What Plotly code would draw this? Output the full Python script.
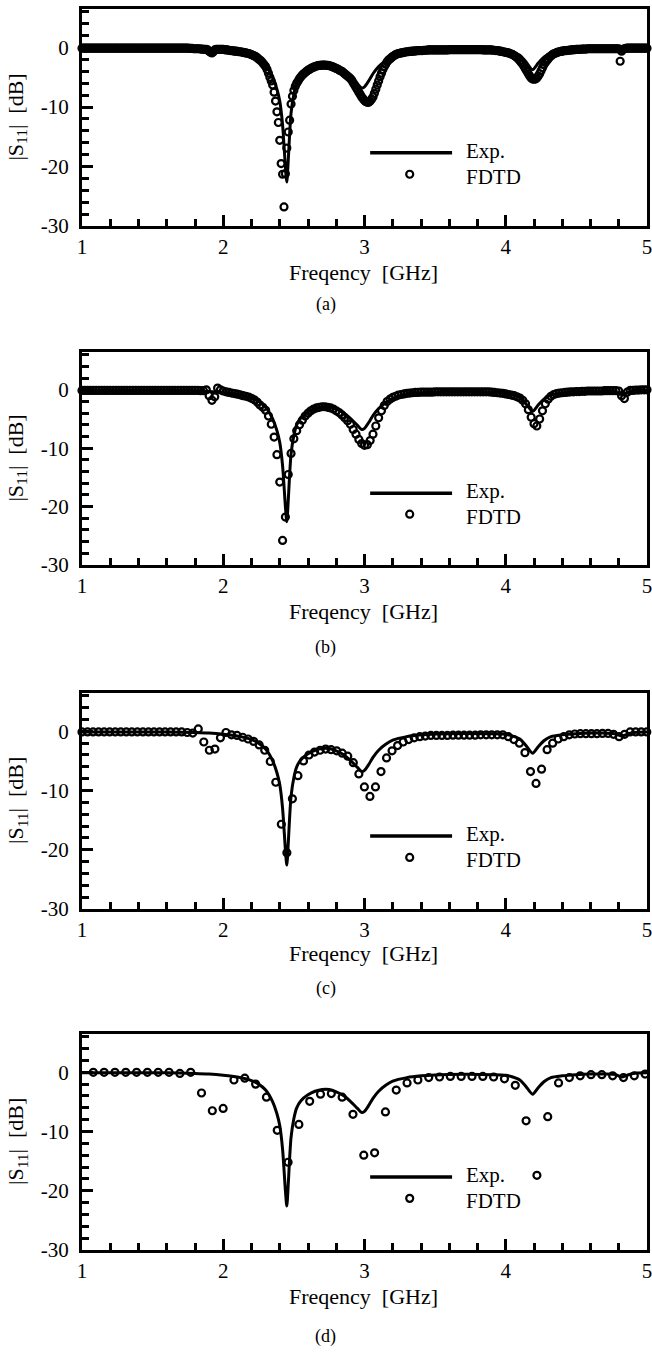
import numpy as np
import plotly.graph_objects as go

# ---------------- data ----------------
exp_f = [1.00, 1.20, 1.40, 1.60, 1.80, 1.90, 2.00, 2.10, 2.20, 2.25,
         2.30, 2.35, 2.38, 2.40, 2.42, 2.44, 2.45, 2.46, 2.47, 2.48,
         2.50, 2.52, 2.55, 2.60, 2.65, 2.70, 2.75, 2.80, 2.85, 2.90,
         2.95, 2.98, 3.00, 3.03, 3.06, 3.10, 3.15, 3.20, 3.30, 3.40,
         3.50, 3.70, 3.90, 4.00, 4.05, 4.10, 4.14, 4.19, 4.23, 4.27,
         4.32, 4.40, 4.50, 4.60, 4.70, 4.78, 4.82, 4.86, 4.90, 5.00]
exp_db = [-0.1, -0.1, -0.1, -0.1, -0.2, -0.3, -0.5, -0.8, -1.4, -2.0,
          -3.0, -5.0, -7.0, -9.0, -13.0, -20.0, -22.6, -19.0, -14.5, -11.0,
          -7.8, -6.0, -4.8, -3.8, -3.2, -2.9, -2.9, -3.3, -3.9, -4.9,
          -6.1, -6.8, -6.6, -5.6, -4.4, -3.2, -2.2, -1.5, -0.9, -0.6,
          -0.45, -0.35, -0.4, -0.5, -0.8, -1.3, -2.3, -3.7, -2.6, -1.6,
          -0.9, -0.6, -0.4, -0.3, -0.3, -0.4, -0.8, -0.5, -0.2, -0.1]

# FDTD (a): 0.01 GHz step from 1.00 to 5.00
fdtd_a = [
    -0.1, -0.1, -0.1, -0.1, -0.1, -0.1, -0.1, -0.1, -0.1, -0.1,
    -0.1, -0.1, -0.1, -0.1, -0.1, -0.1, -0.1, -0.1, -0.1, -0.1,
    -0.1, -0.1, -0.1, -0.1, -0.1, -0.1, -0.1, -0.1, -0.1, -0.1,
    -0.1, -0.1, -0.1, -0.1, -0.1, -0.1, -0.1, -0.1, -0.1, -0.1,
    -0.1, -0.1, -0.1, -0.1, -0.1, -0.1, -0.1, -0.1, -0.1, -0.1,
    -0.1, -0.1, -0.1, -0.1, -0.1, -0.1, -0.1, -0.1, -0.1, -0.1,
    -0.1, -0.1, -0.1, -0.1, -0.1, -0.1, -0.1, -0.1, -0.1, -0.1,
    -0.1, -0.1, -0.1, -0.1, -0.1, -0.1, -0.15, -0.15, -0.15, -0.2,
    -0.2, -0.2, -0.2, -0.2, -0.25, -0.25, -0.3, -0.3, -0.3, -0.4,
    -0.6, -0.8, -0.9, -0.7, -0.4, -0.3, -0.3, -0.3, -0.3, -0.3,
    -0.3, -0.35, -0.4, -0.4, -0.45, -0.5, -0.5, -0.55, -0.6, -0.6,
    -0.65, -0.7, -0.7, -0.75, -0.8, -0.85, -0.9, -0.95, -1.0, -1.1,
    -1.2, -1.3, -1.4, -1.5, -1.7, -1.9, -2.1, -2.3, -2.6, -2.9,
    -3.2, -3.7, -4.3, -5.0, -5.6, -6.3, -7.5, -9.0, -10.8, -12.6,
    -15.6, -19.5, -21.3, -26.8, -21.2, -16.9, -14.2, -12.2, -9.5, -8.2,
    -7.2, -6.5, -6.0, -5.6, -5.2, -4.9, -4.6, -4.4, -4.2, -4.0,
    -3.8, -3.7, -3.5, -3.4, -3.3, -3.2, -3.1, -3.05, -3.0, -3.0,
    -2.95, -2.95, -2.95, -3.0, -3.0, -3.05, -3.1, -3.2, -3.3, -3.4,
    -3.5, -3.6, -3.75, -3.9, -4.0, -4.2, -4.4, -4.6, -4.8, -5.0,
    -5.2, -5.5, -5.9, -6.3, -6.7, -7.1, -7.5, -7.9, -8.3, -8.6,
    -8.9, -9.1, -9.2, -9.2, -9.0, -8.7, -8.3, -7.7, -7.0, -6.3,
    -5.6, -4.9, -4.3, -3.7, -3.2, -2.8, -2.4, -2.1, -1.9, -1.7,
    -1.5, -1.35, -1.2, -1.1, -1.0, -0.95, -0.9, -0.85, -0.8, -0.75,
    -0.7, -0.7, -0.65, -0.65, -0.6, -0.6, -0.55, -0.55, -0.5, -0.5,
    -0.5, -0.5, -0.45, -0.45, -0.45, -0.4, -0.4, -0.4, -0.4, -0.4,
    -0.4, -0.4, -0.4, -0.4, -0.4, -0.4, -0.4, -0.4, -0.4, -0.4,
    -0.35, -0.35, -0.35, -0.35, -0.35, -0.35, -0.35, -0.35, -0.35, -0.35,
    -0.35, -0.35, -0.35, -0.35, -0.35, -0.35, -0.35, -0.35, -0.35, -0.35,
    -0.35, -0.35, -0.35, -0.35, -0.4, -0.4, -0.4, -0.4, -0.4, -0.4,
    -0.4, -0.45, -0.45, -0.5, -0.5, -0.55, -0.6, -0.65, -0.7, -0.75,
    -0.8, -0.85, -0.9, -1.0, -1.1, -1.2, -1.35, -1.5, -1.7, -1.9,
    -2.2, -2.5, -2.8, -3.2, -3.6, -4.0, -4.4, -4.8, -5.1, -5.3,
    -5.3, -5.3, -5.1, -4.8, -4.4, -3.9, -3.4, -2.9, -2.5, -2.2,
    -1.9, -1.6, -1.4, -1.2, -1.05, -0.95, -0.85, -0.75, -0.7, -0.65,
    -0.6, -0.55, -0.5, -0.5, -0.45, -0.45, -0.4, -0.4, -0.35, -0.35,
    -0.3, -0.3, -0.3, -0.3, -0.25, -0.25, -0.25, -0.25, -0.2, -0.2,
    -0.2, -0.2, -0.2, -0.2, -0.2, -0.2, -0.2, -0.2, -0.2, -0.2,
    -0.2, -0.2, -0.2, -0.2, -0.2, -0.2, -0.2, -0.2, -0.2, -0.2,
    -0.2, -2.3, -0.6, -0.3, -0.2, -0.15, -0.1, -0.1, -0.1, -0.1,
    -0.1, -0.1, -0.1, -0.1, -0.1, -0.1, -0.1, -0.1, -0.1, -0.1,
    -0.1]

# FDTD (b): 0.02 GHz step from 1.00 to 5.00
fdtd_b = [
    -0.1, -0.1, -0.1, -0.1, -0.1,
    -0.1, -0.1, -0.1, -0.1, -0.1,
    -0.1, -0.1, -0.1, -0.1, -0.1,
    -0.1, -0.1, -0.1, -0.1, -0.1,
    -0.1, -0.1, -0.1, -0.1, -0.1,
    -0.1, -0.1, -0.1, -0.1, -0.1,
    -0.1, -0.1, -0.1, -0.1, -0.1,
    -0.1, -0.1, -0.1, -0.1, -0.1,
    -0.1, -0.1, -0.15, -0.15, 0.0,
    -1.0, -1.8, -1.2, 0.3, 0.0,
    -0.2, -0.35, -0.45, -0.55, -0.65,
    -0.75, -0.85, -1.0, -1.1, -1.25,
    -1.45, -1.7, -2.1, -2.6, -3.0,
    -3.5, -4.5, -5.9, -8.1, -11.1,
    -15.8, -25.8, -21.8, -14.5, -10.9,
    -8.4, -7.0, -6.0, -5.2, -4.5,
    -4.0, -3.6, -3.3, -3.1, -3.0,
    -2.9, -2.9, -3.0, -3.1, -3.3,
    -3.6, -3.9, -4.3, -4.8, -5.3,
    -5.9, -6.8, -7.6, -8.5, -9.2,
    -9.5, -9.4, -8.7, -7.6, -6.2,
    -4.8, -3.6, -2.7, -2.0, -1.6,
    -1.3, -1.1, -0.9, -0.8, -0.7,
    -0.6, -0.55, -0.5, -0.45, -0.45,
    -0.4, -0.4, -0.4, -0.4, -0.4,
    -0.35, -0.35, -0.35, -0.35, -0.35,
    -0.35, -0.35, -0.35, -0.35, -0.35,
    -0.35, -0.35, -0.35, -0.35, -0.35,
    -0.35, -0.35, -0.35, -0.35, -0.35,
    -0.4, -0.45, -0.5, -0.55, -0.6,
    -0.7, -0.8, -0.9, -1.0, -1.2,
    -1.4, -1.8, -2.4, -3.4, -4.7,
    -5.8, -6.2, -5.0, -3.6, -2.4,
    -1.6, -1.1, -0.8, -0.65, -0.55,
    -0.5, -0.45, -0.4, -0.35, -0.35,
    -0.3, -0.3, -0.25, -0.25, -0.2,
    -0.2, -0.2, -0.2, -0.2, -0.2,
    -0.15, -0.15, -0.15, -0.15, -0.15,
    -0.2, -1.0, -1.5, -0.4, -0.1,
    -0.1, -0.05, -0.05, 0.0, 0.0,
    0.0]

# FDTD (c): ~0.0392 GHz step from 1.00
fdtd_c = [
    -0.1, -0.1, -0.1, -0.1, -0.1, -0.1, -0.1, -0.1, -0.1, -0.1,
    -0.1, -0.1, -0.1, -0.1, -0.1, -0.1, -0.1, -0.1, -0.1, -0.2,
    -0.3, 0.4, -1.8, -3.2, -3.0, -1.1, -0.2, -0.6, -0.7, -1.0,
    -1.3, -1.7, -2.3, -3.2, -5.1, -8.6, -15.7, -20.5, -11.4, -7.5,
    -5.0, -4.0, -3.5, -3.2, -3.0, -3.1, -3.3, -3.7, -4.2, -5.3,
    -7.2, -9.4, -11.0, -9.4, -6.8, -4.5, -3.3, -2.4, -1.8, -1.4,
    -1.1, -0.9, -0.8, -0.7, -0.7, -0.7, -0.7, -0.65, -0.65, -0.65,
    -0.65, -0.65, -0.6, -0.6, -0.6, -0.6, -0.6, -0.9, -1.4, -2.0,
    -3.6, -6.8, -8.8, -6.4, -3.1, -2.0, -1.3, -0.9, -0.6, -0.45,
    -0.4, -0.4, -0.4, -0.4, -0.35, -0.35, -0.5, -0.9, -0.5, -0.1,
    -0.1, -0.1, -0.1]

# FDTD (d): ~0.0766 GHz step from 1.08
fdtd_d = [
    0.0, 0.0, 0.0, 0.0, 0.0, 0.0, 0.0, 0.0, -0.2, 0.0,
    -3.5, -6.5, -6.1, -1.3, -1.0, -2.0, -4.2, -9.8, -15.2, -8.8,
    -4.9, -3.7, -3.6, -4.2, -7.1, -14.0, -13.6, -6.7, -3.0, -1.8,
    -1.3, -0.9, -0.8, -0.7, -0.7, -0.7, -0.7, -0.8, -1.1, -2.2,
    -8.2, -17.4, -7.5, -1.8, -0.9, -0.6, -0.4, -0.4, -0.6, -0.9,
    -0.6, -0.3]

# frequency sampling grids
f_a = np.round(1.00 + 0.01 * np.arange(len(fdtd_a)), 4)
f_b = np.round(1.00 + 0.02 * np.arange(len(fdtd_b)), 4)
f_c = np.round(1.00 + 0.0392 * np.arange(len(fdtd_c)), 4)
f_d = np.round(1.08 + 0.0766 * np.arange(len(fdtd_d)), 4)

panels = [("(a)", f_a, fdtd_a), ("(b)", f_b, fdtd_b),
          ("(c)", f_c, fdtd_c), ("(d)", f_d, fdtd_d)]

x_ticks = [1, 2, 3, 4, 5]
y_ticks = [-30, -20, -10, 0]
y_ticklabels = ["-30", "-20", "-10", "0"]

# ---------------- layout geometry (pixels) ----------------
W, H = 652, 1361
L, R = 82, 4
PW = W - L - R
tops = [9, 355, 699, 1043]
bottoms = [228, 570, 917, 1261]
xtitle_y = [275, 617, 962, 1308]
caption_y = [307, 653, 997, 1348]

def py(y):
    return 1 - y / H

def px(x):
    return (x - L) / PW

FONT = "Liberation Serif"

fig = go.Figure()
layout = dict(width=W, height=H, margin=dict(l=L, r=R, t=0, b=0),
              plot_bgcolor="white", paper_bgcolor="white", showlegend=False,
              font=dict(family=FONT, color="black"))
annotations = []
shapes = []

for i, (cap, f, vals) in enumerate(panels):
    n = "" if i == 0 else str(i + 1)
    xa, ya = "x" + n, "y" + n
    fig.add_trace(go.Scatter(x=exp_f, y=exp_db, mode="lines",
                             line=dict(color="black", width=3, shape="spline", smoothing=0.7),
                             xaxis=xa, yaxis=ya, hoverinfo="skip"))
    fig.add_trace(go.Scatter(x=f, y=vals, mode="markers",
                             marker=dict(symbol="circle-open", size=7, color="black",
                                         line=dict(color="black", width=2.2)),
                             cliponaxis=False, xaxis=xa, yaxis=ya, hoverinfo="skip"))
    layout["xaxis" + n] = dict(
        domain=[0, 1], anchor=ya, range=[1, 5], showgrid=False, zeroline=False,
        showline=True, linewidth=3, linecolor="black", mirror=True,
        ticks="inside", ticklen=11, tickwidth=3, tickcolor="black",
        tickvals=x_ticks, ticktext=[str(v) for v in x_ticks],
        ticklabeloverflow="allow",
        tickfont=dict(family=FONT, size=21, color="black"),
        minor=dict(ticks="inside", ticklen=7, tickwidth=2.5, tickcolor="black",
                   tick0=1, dtick=0.2, showgrid=False))
    layout["yaxis" + n] = dict(
        domain=[py(bottoms[i]), py(tops[i])], anchor=xa, range=[-30, 6.5],
        showgrid=False, zeroline=False,
        showline=True, linewidth=3, linecolor="black", mirror=True,
        ticks="inside", ticklen=11, tickwidth=3, tickcolor="black",
        tickvals=y_ticks, ticktext=y_ticklabels, ticklabelstandoff=6,
        tickfont=dict(family=FONT, size=21, color="black"),
        minor=dict(ticks="inside", ticklen=7, tickwidth=2.5, tickcolor="black",
                   tick0=0, dtick=2, showgrid=False))
    # axis titles & caption
    annotations.append(dict(text="Freqency  [GHz]", xref="paper", yref="paper",
                            x=px(364), y=py(xtitle_y[i]), xanchor="center", yanchor="middle",
                            showarrow=False, font=dict(family=FONT, size=22, color="black")))
    annotations.append(dict(text="|S<sub>11</sub>|  [dB]", xref="paper", yref="paper",
                            x=px(17), y=py((tops[i] + bottoms[i]) / 2), textangle=-90,
                            xanchor="center", yanchor="middle", showarrow=False,
                            font=dict(family=FONT, size=22, color="black")))
    annotations.append(dict(text=cap, xref="paper", yref="paper",
                            x=px(326), y=py(caption_y[i]), xanchor="center", yanchor="middle",
                            showarrow=False, font=dict(family=FONT, size=18, color="black")))
    # legend (drawn inside each panel)
    shapes.append(dict(type="line", xref=xa, yref=ya, x0=3.04, x1=3.62, y0=-17.7, y1=-17.7,
                       line=dict(color="black", width=3.5)))
    shapes.append(dict(type="circle", xref=xa, yref=ya, xsizemode="pixel", ysizemode="pixel",
                       xanchor=3.32, yanchor=-21.3, x0=-3.5, x1=3.5, y0=-3.5, y1=3.5,
                       line=dict(color="black", width=2.2)))
    annotations.append(dict(text="Exp.", xref=xa, yref=ya, x=3.71, y=-19.5,
                            xanchor="left", yanchor="bottom", showarrow=False, borderpad=0,
                            font=dict(family=FONT, size=21, color="black")))
    annotations.append(dict(text="FDTD", xref=xa, yref=ya, x=3.71, y=-19.5,
                            xanchor="left", yanchor="top", showarrow=False, borderpad=0,
                            font=dict(family=FONT, size=21, color="black")))

layout["annotations"] = annotations
layout["shapes"] = shapes
fig.update_layout(**layout)
fig.write_html("out.html", config={"displayModeBar": False},
               post_script="document.body.style.margin='0';document.body.style.padding='0';")
